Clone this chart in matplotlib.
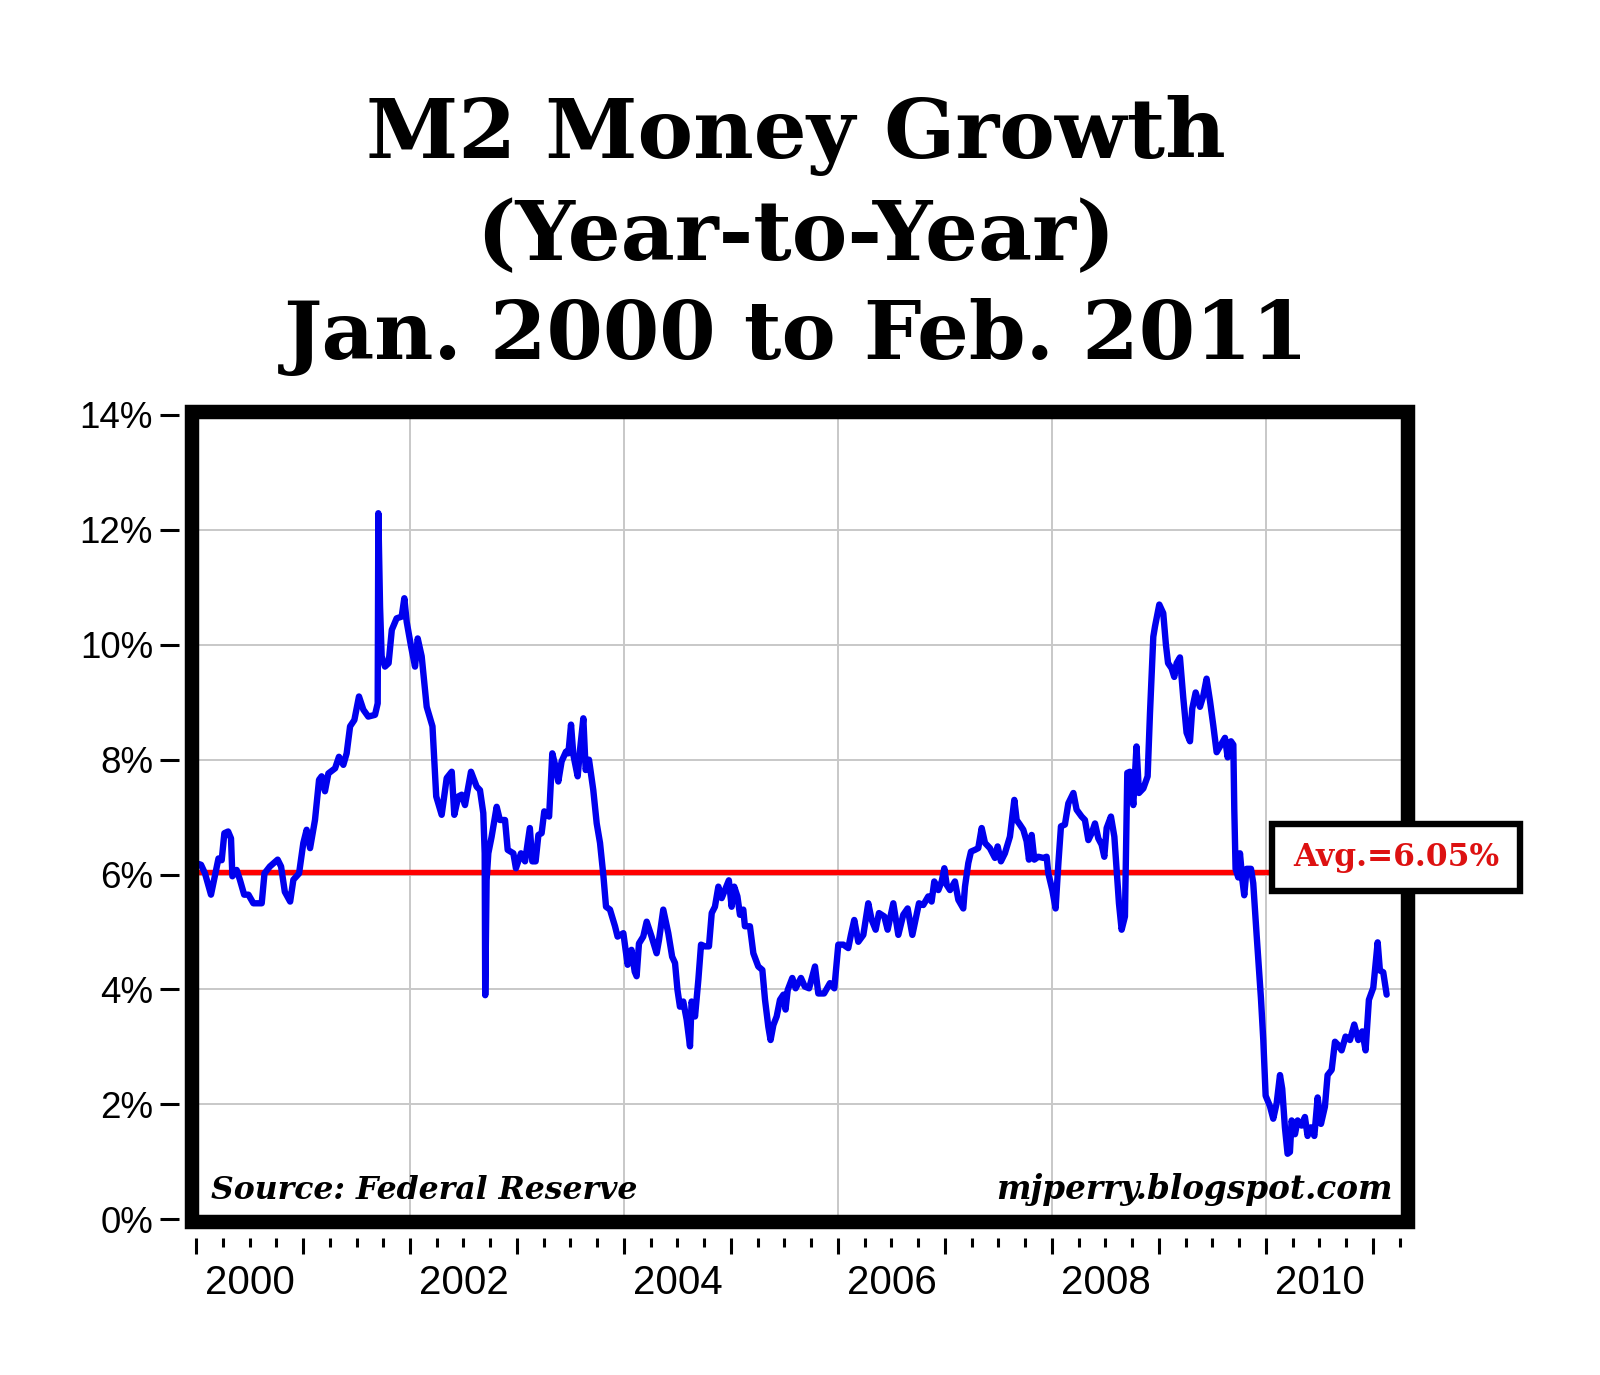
import matplotlib
matplotlib.use('Agg')
import matplotlib.pyplot as plt
from matplotlib.patches import Rectangle
from matplotlib.ticker import MultipleLocator, FixedLocator, FuncFormatter


# M2 year-to-year growth (decimal years, percent)
years = [
    2000.000, 2000.047, 2000.084, 2000.140, 2000.210, 2000.240, 2000.265, 2000.300,
    2000.327, 2000.340, 2000.380, 2000.410, 2000.450, 2000.490, 2000.536, 2000.614,
    2000.640, 2000.690, 2000.763, 2000.795, 2000.830, 2000.880, 2000.910, 2000.963,
    2001.003, 2001.034, 2001.066, 2001.112, 2001.150, 2001.174, 2001.205, 2001.237,
    2001.300, 2001.336, 2001.377, 2001.408, 2001.440, 2001.480, 2001.523, 2001.564,
    2001.610, 2001.673, 2001.698, 2001.704, 2001.720, 2001.735, 2001.766, 2001.800,
    2001.830, 2001.875, 2001.922, 2001.947, 2001.969, 2002.010, 2002.047, 2002.072,
    2002.109, 2002.156, 2002.210, 2002.245, 2002.296, 2002.343, 2002.390, 2002.414,
    2002.452, 2002.483, 2002.514, 2002.570, 2002.623, 2002.654, 2002.685, 2002.698,
    2002.703, 2002.716, 2002.732, 2002.763, 2002.810, 2002.840, 2002.888, 2002.913,
    2002.966, 2002.990, 2003.037, 2003.075, 2003.120, 2003.143, 2003.174, 2003.200,
    2003.230, 2003.255, 2003.300, 2003.330, 2003.360, 2003.386, 2003.417, 2003.458,
    2003.480, 2003.505, 2003.527, 2003.567, 2003.589, 2003.620, 2003.642, 2003.673,
    2003.713, 2003.745, 2003.776, 2003.807, 2003.832, 2003.869, 2003.916, 2003.940,
    2003.994, 2004.034, 2004.070, 2004.100, 2004.118, 2004.140, 2004.180, 2004.212,
    2004.258, 2004.305, 2004.327, 2004.367, 2004.414, 2004.450, 2004.477, 2004.500,
    2004.523, 2004.554, 2004.586, 2004.617, 2004.632, 2004.664, 2004.695, 2004.720,
    2004.757, 2004.794, 2004.820, 2004.850, 2004.882, 2004.913, 2004.937, 2004.980,
    2005.006, 2005.030, 2005.060, 2005.084, 2005.115, 2005.130, 2005.177, 2005.209,
    2005.255, 2005.293, 2005.318, 2005.349, 2005.370, 2005.396, 2005.427, 2005.458,
    2005.490, 2005.510, 2005.530, 2005.573, 2005.604, 2005.654, 2005.690, 2005.730,
    2005.785, 2005.816, 2005.870, 2005.925, 2005.966, 2006.003, 2006.050, 2006.096,
    2006.121, 2006.152, 2006.190, 2006.237, 2006.283, 2006.315, 2006.352, 2006.383,
    2006.433, 2006.464, 2006.517, 2006.564, 2006.610, 2006.651, 2006.695, 2006.757,
    2006.797, 2006.844, 2006.875, 2006.900, 2006.938, 2006.969, 2006.994, 2007.016,
    2007.047, 2007.093, 2007.125, 2007.171, 2007.187, 2007.218, 2007.243, 2007.280,
    2007.311, 2007.343, 2007.374, 2007.420, 2007.467, 2007.492, 2007.523, 2007.560,
    2007.607, 2007.648, 2007.670, 2007.700, 2007.732, 2007.763, 2007.785, 2007.810,
    2007.835, 2007.872, 2007.919, 2007.950, 2007.966, 2008.003, 2008.034, 2008.060,
    2008.084, 2008.121, 2008.153, 2008.200, 2008.230, 2008.277, 2008.308, 2008.340,
    2008.371, 2008.402, 2008.433, 2008.464, 2008.489, 2008.511, 2008.551, 2008.583,
    2008.604, 2008.626, 2008.651, 2008.682, 2008.704, 2008.729, 2008.760, 2008.790,
    2008.813, 2008.854, 2008.894, 2008.916, 2008.947, 2008.963, 2009.003, 2009.040,
    2009.065, 2009.085, 2009.118, 2009.143, 2009.165, 2009.196, 2009.227, 2009.258,
    2009.290, 2009.311, 2009.343, 2009.383, 2009.414, 2009.445, 2009.477, 2009.508,
    2009.539, 2009.579, 2009.617, 2009.642, 2009.673, 2009.695, 2009.704, 2009.716,
    2009.741, 2009.757, 2009.779, 2009.797, 2009.819, 2009.860, 2009.881, 2009.913,
    2009.953, 2009.975, 2009.997, 2010.037, 2010.068, 2010.100, 2010.131, 2010.152,
    2010.177, 2010.202, 2010.224, 2010.240, 2010.271, 2010.296, 2010.333, 2010.364,
    2010.389, 2010.420, 2010.452, 2010.483, 2010.514, 2010.551, 2010.576, 2010.614,
    2010.645, 2010.676, 2010.707, 2010.744, 2010.785, 2010.825, 2010.863, 2010.900,
    2010.931, 2010.962, 2011.003, 2011.044, 2011.065, 2011.096, 2011.128,
]

m2_growth = [
    6.20, 6.17, 6.02, 5.65, 6.28, 6.25, 6.72, 6.75,
    6.63, 5.97, 6.08, 5.91, 5.65, 5.65, 5.50, 5.50,
    6.02, 6.14, 6.26, 6.14, 5.70, 5.53, 5.91, 6.02,
    6.55, 6.78, 6.46, 6.95, 7.65, 7.71, 7.45, 7.76,
    7.85, 8.05, 7.91, 8.11, 8.58, 8.69, 9.10, 8.87,
    8.75, 8.78, 8.98, 12.29, 10.67, 9.80, 9.62, 9.68,
    10.26, 10.46, 10.49, 10.81, 10.40, 9.97, 9.62, 10.11,
    9.80, 8.92, 8.58, 7.36, 7.04, 7.68, 7.79, 7.04,
    7.36, 7.39, 7.21, 7.79, 7.53, 7.47, 7.07, 6.37,
    3.90, 5.90, 6.37, 6.66, 7.18, 6.95, 6.95, 6.43,
    6.37, 6.11, 6.37, 6.23, 6.81, 6.23, 6.23, 6.69,
    6.72, 7.10, 7.01, 8.11, 7.88, 7.62, 7.97, 8.14,
    8.11, 8.61, 8.08, 7.71, 8.17, 8.72, 7.82, 8.00,
    7.47, 6.89, 6.55, 5.99, 5.44, 5.39, 5.10, 4.92,
    4.98, 4.43, 4.69, 4.31, 4.23, 4.80, 4.92, 5.18,
    4.92, 4.63, 4.86, 5.39, 4.98, 4.57, 4.46, 3.99,
    3.70, 3.79, 3.47, 3.01, 3.79, 3.53, 4.17, 4.78,
    4.75, 4.75, 5.33, 5.44, 5.79, 5.59, 5.70, 5.90,
    5.44, 5.79, 5.62, 5.30, 5.39, 5.10, 5.10, 4.63,
    4.40, 4.34, 3.82, 3.35, 3.12, 3.38, 3.53, 3.82,
    3.91, 3.65, 3.99, 4.20, 4.02, 4.20, 4.05, 4.02,
    4.40, 3.93, 3.93, 4.11, 4.02, 4.78, 4.78, 4.72,
    4.95, 5.21, 4.83, 4.95, 5.50, 5.21, 5.04, 5.33,
    5.27, 5.04, 5.50, 4.95, 5.30, 5.41, 4.95, 5.50,
    5.47, 5.62, 5.53, 5.88, 5.73, 5.88, 6.11, 5.82,
    5.73, 5.88, 5.56, 5.41, 5.79, 6.20, 6.40, 6.43,
    6.46, 6.81, 6.55, 6.46, 6.29, 6.49, 6.23, 6.37,
    6.66, 7.30, 6.95, 6.87, 6.78, 6.58, 6.26, 6.69,
    6.26, 6.31, 6.29, 6.31, 6.02, 5.73, 5.41, 6.20,
    6.84, 6.87, 7.24, 7.42, 7.13, 7.01, 6.95, 6.60,
    6.72, 6.89, 6.63, 6.52, 6.31, 6.81, 7.01, 6.66,
    6.08, 5.50, 5.04, 5.27, 7.77, 7.79, 7.21, 8.23,
    7.42, 7.50, 7.71, 8.81, 10.14, 10.32, 10.70, 10.55,
    10.00, 9.68, 9.59, 9.44, 9.68, 9.78, 9.08, 8.47,
    8.32, 8.89, 9.17, 8.92, 9.11, 9.41, 9.02, 8.59,
    8.13, 8.26, 8.38, 8.04, 8.32, 8.26, 7.13, 6.10,
    5.95, 6.37, 5.91, 5.64, 6.10, 6.10, 5.85, 4.94,
    3.85, 3.12, 2.15, 1.97, 1.75, 2.02, 2.51, 2.27,
    1.60, 1.14, 1.17, 1.72, 1.48, 1.72, 1.63, 1.78,
    1.45, 1.60, 1.45, 2.12, 1.66, 1.96, 2.51, 2.60,
    3.09, 3.03, 2.94, 3.18, 3.12, 3.39, 3.12, 3.27,
    2.94, 3.82, 4.03, 4.82, 4.33, 4.30, 3.91,
]

average = 6.05
label_years = [2000, 2002, 2004, 2006, 2008, 2010]
y_ticks = [0, 2, 4, 6, 8, 10, 12, 14]

fig = plt.figure(figsize=(16, 13.75), dpi=100)
ax = fig.add_axes([0.1203, 0.1116, 0.7594, 0.5891])

ax.plot(years, m2_growth, color='#0000ee', lw=4.6, zorder=4,
        solid_joinstyle='round', solid_capstyle='round')
ax.axhline(average, color='#ff0000', lw=3.9, zorder=3)

ax.set_xlim(1999.967, 2011.323)
ax.set_ylim(-0.04, 14.06)

# grid
for g in y_ticks[1:-1]:
    ax.axhline(g, color='#c8c8c8', lw=1.4, zorder=1)
for g in label_years[1:]:
    ax.axvline(g, color='#c8c8c8', lw=1.4, zorder=1)

# ticks sit a little outside the thick frame
for side in ['left', 'right', 'top', 'bottom']:
    ax.spines[side].set_color('none')
ax.spines['left'].set_position(('outward', 9.7))
ax.spines['bottom'].set_position(('outward', 11.9))

ax.set_yticks(y_ticks)
ax.set_yticklabels([f'{v}%' for v in y_ticks])
ax.tick_params(axis='y', length=13.7, width=2.2, pad=5, labelsize=26.5,
               labelfontfamily='Liberation Sans')

ax.xaxis.set_major_locator(MultipleLocator(1))
ax.xaxis.set_minor_locator(FixedLocator([y + q for y in range(2000, 2012) for q in (0.25, 0.5, 0.75)]))
ax.xaxis.set_major_formatter(FuncFormatter(lambda x, pos: ''))


def mid_year_label(x, pos):
    yr = int(round(x - 0.5))
    if abs(x - yr - 0.5) < 1e-6 and yr in label_years:
        return str(yr)
    return ''


ax.xaxis.set_minor_formatter(FuncFormatter(mid_year_label))
ax.tick_params(axis='x', which='major', length=11.5, width=2.2)
ax.tick_params(axis='x', which='minor', length=6.5, width=2.2, pad=12,
               labelsize=29, labelfontfamily='Liberation Sans')

# thick black frame
ax.add_patch(Rectangle((0, 0), 1, 1, transform=ax.transAxes, fill=False,
                       ec='black', lw=10.4, clip_on=False, zorder=6, joinstyle='miter'))

serif = ['DejaVu Serif']
ax.text(0.0152, 0.0278, 'Source: Federal Reserve', transform=ax.transAxes,
        fontsize=22.7, fontweight='bold', style='italic', family=serif, zorder=7)
ax.text(0.988, 0.0278, 'mjperry.blogspot.com', transform=ax.transAxes, ha='right',
        fontsize=23.5, fontweight='bold', style='italic', family=serif, zorder=7)

# average label box
fig.add_artist(Rectangle((0.795, 0.352), 0.155, 0.0487, transform=fig.transFigure,
                         fc='white', ec='black', lw=4.6, zorder=10, joinstyle='miter'))
fig.text(0.8725, 0.3764, 'Avg.=6.05%', ha='center', va='center', color='#dd1111',
         fontsize=22.5, fontweight='bold', family=serif, zorder=11)

# title
fig.text(0.4975, 0.8851, 'M2 Money Growth', ha='center', va='baseline',
         fontsize=60, fontweight='bold', family=serif)
fig.text(0.4975, 0.8109, '(Year-to-Year)', ha='center', va='baseline',
         fontsize=60, fontweight='bold', family=serif)
fig.text(0.4975, 0.7389, 'Jan. 2000 to Feb. 2011', ha='center', va='baseline',
         fontsize=58.5, fontweight='bold', family=serif)

fig.savefig('out.png', dpi=100, facecolor='white')
